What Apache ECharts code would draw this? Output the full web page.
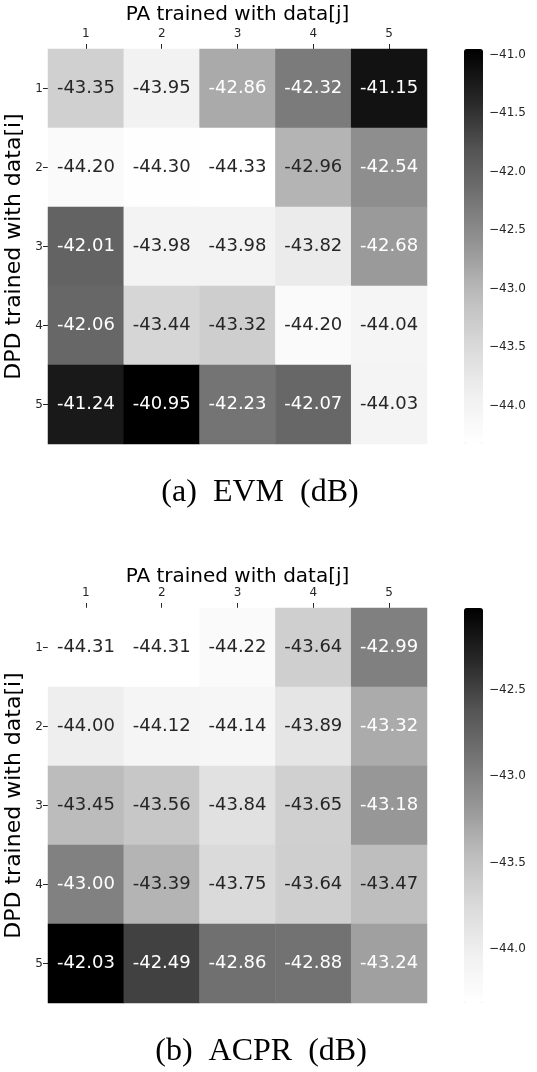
<!DOCTYPE html>
<html><head><meta charset="utf-8">
<script src="https://cdn.jsdelivr.net/npm/echarts@6/dist/echarts.min.js"></script>
<style>html,body{margin:0;padding:0;background:#fff}#c{width:537px;height:1072px}</style>
</head><body><div id="c"></div>
<script>
const cols = ['1','2','3','4','5'];
const rows = ['1','2','3','4','5'];
const evm = [
  [-43.35, -43.95, -42.86, -42.32, -41.15],
  [-44.20, -44.30, -44.33, -42.96, -42.54],
  [-42.01, -43.98, -43.98, -43.82, -42.68],
  [-42.06, -43.44, -43.32, -44.20, -44.04],
  [-41.24, -40.95, -42.23, -42.07, -44.03]
];
const acpr = [
  [-44.31, -44.31, -44.22, -43.64, -42.99],
  [-44.00, -44.12, -44.14, -43.89, -43.32],
  [-43.45, -43.56, -43.84, -43.65, -43.18],
  [-43.00, -43.39, -43.75, -43.64, -43.47],
  [-42.03, -42.49, -42.86, -42.88, -43.24]
];
const evmTicks = [-44.0, -43.5, -43.0, -42.5, -42.0, -41.5, -41.0];
const acprTicks = [-44.0, -43.5, -43.0, -42.5];
const xTitle = 'PA trained with data[j]';
const yTitle = 'DPD trained with data[i]';
const captions = ['(a)  EVM  (dB)', '(b)  ACPR  (dB)'];

const greys = ['#ffffff','#f0f0f0','#d9d9d9','#bdbdbd','#969696','#737373','#525252','#252525','#000000'];
const FONT = 'DejaVu Sans';
const TXT = '#262626';

function hexToRgb(h){ return [parseInt(h.substr(1,2),16),parseInt(h.substr(3,2),16),parseInt(h.substr(5,2),16)]; }
function cmap(f){
  f = Math.max(0, Math.min(1, f));
  const p = f * (greys.length - 1);
  const i = Math.min(Math.floor(p), greys.length - 2);
  const t = p - i;
  const a = hexToRgb(greys[i]), b = hexToRgb(greys[i+1]);
  return a.map((v,k)=> v + (b[k]-v)*t);
}
function lum(rgb){
  const c = rgb.map(v=>{ v/=255; return v <= 0.03928 ? v/12.92 : Math.pow((v+0.055)/1.055, 2.4); });
  return 0.2126*c[0] + 0.7152*c[1] + 0.0722*c[2];
}
function build(mat){
  const flat = mat.flat();
  const mn = Math.min(...flat), mx = Math.max(...flat);
  const data = [];
  mat.forEach((row, r) => row.forEach((v, c) => {
    const L = lum(cmap((v - mn) / (mx - mn)));
    data.push({ value: [c, r, v], label: { color: L > 0.408 ? TXT : '#ffffff' } });
  }));
  return { data, mn, mx };
}
const A = build(evm), B = build(acpr);

const gridLeft = 48, gridW = 379, gridH = 395;
const tops = [49, 608];
const xNameGaps = [24, 21];
const cbLeft = 464, cbW = 19;

function fmtTick(v){ return (v < 0 ? '\u2212' : '') + Math.abs(v).toFixed(1); }

const grids = [], xAxes = [], yAxes = [], series = [], vms = [];
[A, B].forEach((D, k) => {
  grids.push({ left: gridLeft, top: tops[k], width: gridW, height: gridH, containLabel: false, outerBoundsMode: 'none' });
  xAxes.push({
    gridIndex: k, type: 'category', data: cols, position: 'top',
    axisLine: { show: false }, splitLine: { show: false },
    axisTick: { show: true, alignWithLabel: true, length: 5, lineStyle: { color: TXT } },
    axisLabel: { fontFamily: FONT, fontSize: 12, color: TXT, margin: 9 },
    name: xTitle, nameLocation: 'middle', nameGap: xNameGaps[k], nameMoveOverlap: false,
    nameTextStyle: { fontFamily: FONT, fontSize: 20, color: '#000' }
  });
  yAxes.push({
    gridIndex: k, type: 'category', data: rows, inverse: true,
    axisLine: { show: false }, splitLine: { show: false },
    axisTick: { show: true, alignWithLabel: true, length: 5, lineStyle: { color: TXT } },
    axisLabel: { fontFamily: FONT, fontSize: 12, color: TXT, margin: 5 },
    name: yTitle, nameLocation: 'middle', nameGap: 23, nameRotate: 90, nameMoveOverlap: false,
    nameTextStyle: { fontFamily: FONT, fontSize: 22, color: '#000' }
  });
  series.push({
    type: 'heatmap', xAxisIndex: k, yAxisIndex: k, data: D.data,
    label: { show: true, fontFamily: FONT, fontSize: 18,
      formatter: p => p.value[2].toFixed(2) },
    emphasis: { disabled: true }
  });
  vms.push({
    type: 'continuous', seriesIndex: k, min: D.mn, max: D.mx,
    inRange: { color: greys }, calculable: false, showLabel: false,
    itemWidth: cbW, itemHeight: gridH, left: cbLeft, top: tops[k], padding: 0,
    orient: 'vertical', hoverLink: false
  });
});
// colorbar axes
[[A, evmTicks], [B, acprTicks]].forEach(([D, ticks], k) => {
  const gi = grids.length;
  grids.push({ left: cbLeft, top: tops[k], width: cbW, height: gridH, containLabel: false, outerBoundsMode: 'none' });
  xAxes.push({ gridIndex: gi, type: 'value', show: false });
  yAxes.push({
    gridIndex: gi, type: 'value', min: D.mn, max: D.mx, position: 'right',
    axisLine: { show: false }, splitLine: { show: false },
    axisTick: { show: true, length: 4, customValues: ticks, lineStyle: { color: TXT } },
    axisLabel: { fontFamily: FONT, fontSize: 12, color: TXT, margin: 6,
      customValues: ticks, formatter: fmtTick }
  });
});

const chart = echarts.init(document.getElementById('c'), null, { renderer: 'canvas' });
chart.setOption({
  backgroundColor: '#ffffff',
  animation: false,
  grid: grids, xAxis: xAxes, yAxis: yAxes, series: series, visualMap: vms,
  graphic: [
    { type: 'text', x: 260, y: 493, style: { text: captions[0], font: '32px "Liberation Serif"', fill: '#000', textAlign: 'center', textVerticalAlign: 'middle' } },
    { type: 'text', x: 261, y: 1052, style: { text: captions[1], font: '32px "Liberation Serif"', fill: '#000', textAlign: 'center', textVerticalAlign: 'middle' } }
  ]
});
</script>
</body></html>
